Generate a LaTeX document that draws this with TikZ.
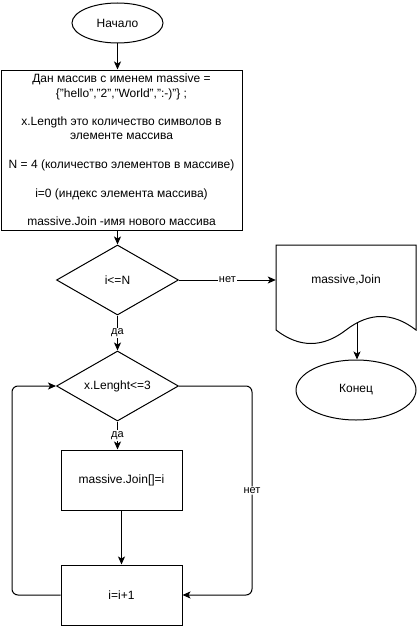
\documentclass[tikz,border=0pt]{standalone}
\usepackage{fontspec}
\setmainfont{Liberation Sans}
\usetikzlibrary{shapes.geometric,arrows.meta}
\begin{document}
\begin{tikzpicture}[x=1pt,y=-1pt,
  every node/.style={font=\fontsize{12}{14.3}\selectfont},
  line/.style={line width=1pt,draw=black},
  flow/.style={line,-{Stealth[length=8pt,width=7pt,inset=2pt]}},
  terminal/.style={ellipse,draw,line width=1pt,minimum width=91,minimum height=40,inner sep=0},
  process/.style={rectangle,draw,line width=1pt,minimum width=121,minimum height=60,inner sep=2},
  decision/.style={diamond,draw,line width=1pt,shape aspect=1.74,minimum width=122,minimum height=70,inner sep=0},
  lbl/.style={fill=white,inner sep=1pt,font=\fontsize{11}{12}\selectfont}]
\useasboundingbox (0,0) rectangle (417,626);

% main column
\node[terminal] (start) at (117.5,23) {Начало};
\node[process,minimum width=241,minimum height=160,align=center] (init) at (121.5,150)
  {Дан массив с именем massive =\\
   \{"hello","2","World",":-)"\} ;\\[14.3pt]
   x.Length это количество символов в\\
   элементе массива\\[14.3pt]
   N = 4 (количество элементов в массиве)\\[14.3pt]
   i=0 (индекс элемента массива)\\[14.3pt]
   massive.Join -имя нового массива};
\node[decision] (c1) at (117.5,280) {i<=N};
\node[decision] (c2) at (117.5,386) {x.Lenght<=3};
\node[process] (join) at (121.5,480) {massive.Join[]=i};
\node[process] (inc) at (121.5,595) {i=i+1};

% output document and end
\node[minimum width=140,minimum height=70,inner sep=0] (out) at (346,280) {massive,Join};
\draw[line] (276,330) -- (276,245) -- (416,245) -- (416,330)
  .. controls (392.67,312) and (369.33,312) .. (346,330)
  .. controls (322.67,348) and (299.33,348) .. (276,330) -- cycle;
\node[terminal,minimum width=120,minimum height=60] (end) at (356,390) {Конец};
\coordinate (outtail) at (357,323);

% connectors
\draw[flow] (start.south) -- (start.south |- init.north);
\draw[flow] (c1.north |- init.south) -- (c1.north);
\draw[flow] (c1.east) -- node[lbl] {нет} (out.west);
\draw[flow] (outtail) -- (outtail |- end.north);
\draw[flow] (c1.south) -- node[lbl] {да} (c2.north);
\draw[flow] (c2.south) -- node[lbl] {да} (c2.south |- join.north);
\draw[flow] (join) -- (inc);

\coordinate (lp) at (12,386);
\draw[flow,rounded corners=6] (inc.west) -- (inc.west -| lp) -- (lp) -- (c2.west);
\coordinate (rp) at (252,386);
\draw[flow,rounded corners=6] (c2.east) -- (rp) -- node[lbl] {нет} (inc.east -| rp) -- (inc.east);
\end{tikzpicture}
\end{document}
